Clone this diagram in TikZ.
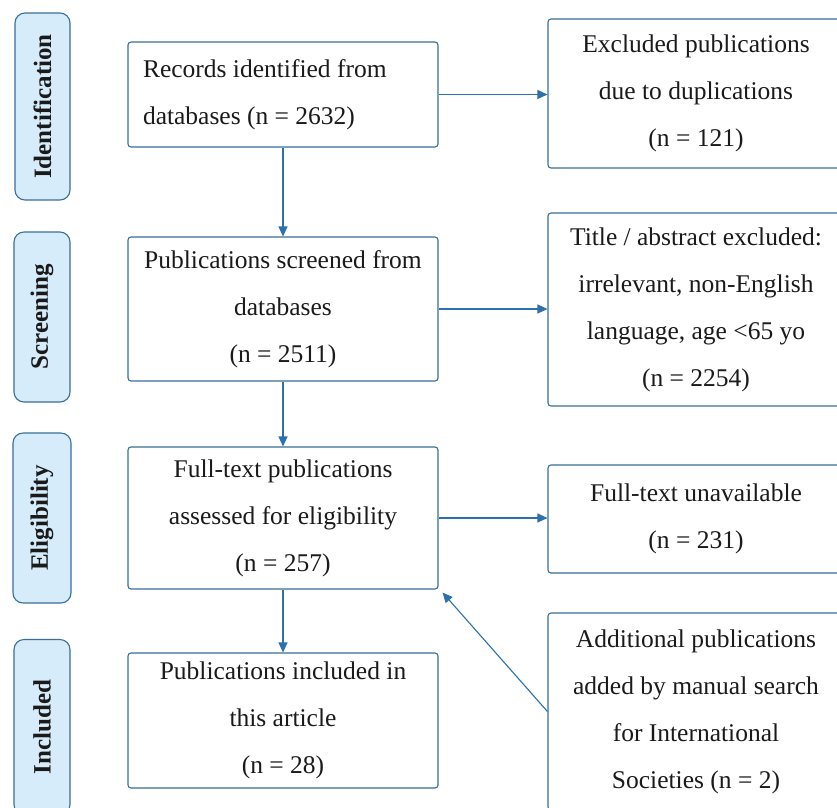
\documentclass[tikz,border=0pt]{standalone}
\usepackage{fontspec}
\setmainfont{Liberation Serif}
\usetikzlibrary{arrows.meta,calc}
\definecolor{edge}{HTML}{3A6F98}
\definecolor{arr}{HTML}{2C70AC}
\definecolor{side}{HTML}{D7ECFA}
\definecolor{ink}{HTML}{1A1A1A}
\begin{document}
\begin{tikzpicture}[x=1pt,y=-1pt,
  box/.style={draw=edge,line width=1.1pt,rounded corners=3pt,fill=white,text=ink,
    align=center,inner sep=0pt,font=\fontsize{25.5}{47}\selectfont},
  sidebox/.style={draw=edge,line width=1.1pt,rounded corners=10pt,fill=side,text=ink,
    inner sep=0pt,font=\fontsize{25}{30}\selectfont\bfseries,rotate=90},
  link/.style={draw=arr,line width=1.1pt,-{Triangle[length=10pt,width=9pt]}}]
\useasboundingbox (0,0) rectangle (837,807);
\clip (0,0) rectangle (837,807);
\fill[white] (0,0) rectangle (837,807);
% side labels
\node[sidebox,minimum width=187pt,minimum height=55pt] (s1) at (42.5,106.5) {Identification};
\node[sidebox,minimum width=170pt,minimum height=56pt] (s2) at (42,317) {Screening};
\node[sidebox,minimum width=170pt,minimum height=58pt] (s3) at (42,518) {Eligibility};
\node[sidebox,minimum width=175pt,minimum height=56pt] (s4) at (42,727) {Included};
% main column
\node[box,minimum width=310pt,minimum height=105pt,align=flush left,text width=280pt] (rec) at (283,94.5) {Records identified from\\databases (n = 2632)};
\node[box,minimum width=310pt,minimum height=144pt] (scr) at (283,309) {Publications screened from\\databases\\(n = 2511)};
\node[box,minimum width=310pt,minimum height=142pt] (ft) at (283,518) {Full-text publications\\assessed for eligibility\\(n = 257)};
\node[box,minimum width=310pt,minimum height=135pt] (inc) at (283,720.5) {Publications included in\\this article\\(n = 28)};
% right column
\node[box,minimum width=296pt,minimum height=149pt] (ex) at (696,93.5) {Excluded publications\\due to duplications\\(n = 121)};
\node[box,minimum width=296pt,minimum height=193pt] (ti) at (696,309.5) {Title / abstract excluded:\\irrelevant, non-English\\language, age <65 yo\\(n = 2254)};
\node[box,minimum width=296pt,minimum height=108pt] (un) at (696,519) {Full-text unavailable\\(n = 231)};
\node[box,minimum width=296pt,minimum height=197pt] (add) at (696,711.5) {Additional publications\\added by manual search\\for International\\Societies (n = 2)};
% connectors
\draw[link] (rec.south) -- (scr.north);
\draw[link] (scr.south) -- (ft.north);
\draw[link] (ft.south) -- (inc.north);
\draw[link] (rec.east) -- (rec.east -| ex.west);
\draw[link] (scr.east) -- (scr.east -| ti.west);
\draw[link] (ft.east) -- (ft.east -| un.west);
\draw[link] (add.west) -- ($(ft.south east)+(4,3)$);
\end{tikzpicture}
\end{document}
